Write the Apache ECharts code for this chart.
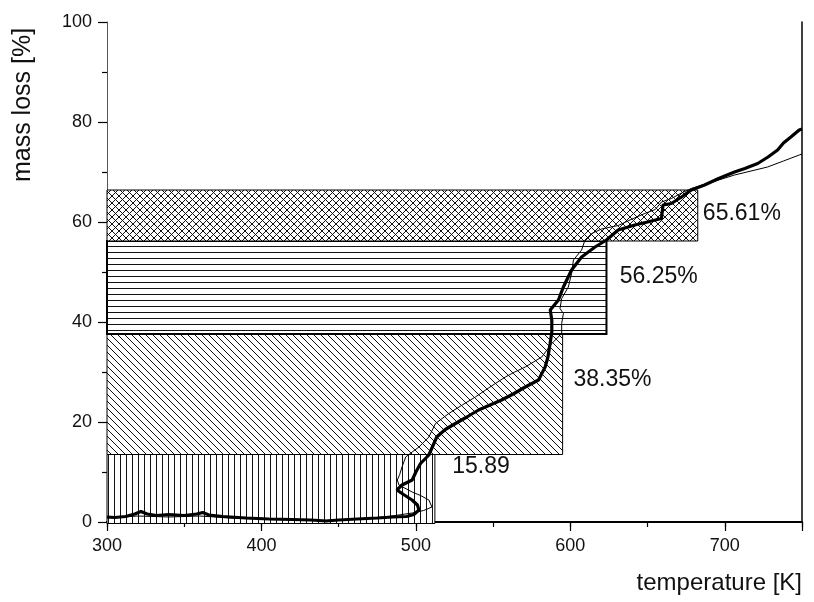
<!DOCTYPE html>
<html><head><meta charset="utf-8">
<script src="https://cdn.jsdelivr.net/npm/echarts@6/dist/echarts.min.js"></script>
<style>html,body{margin:0;padding:0;background:#fff}#c{width:814px;height:602px}</style>
</head><body><div id="c"></div>
<script>
// ---- data ----
const xRange = [300, 750];
const yRange = [0, 100];
const thickCurve = [
 [300,1.0],[305,0.9],[312,1.1],[318,1.6],[322,2.1],[326,1.6],[332,1.3],[340,1.5],[350,1.3],[358,1.6],[362,1.9],[366,1.4],
 [375,1.1],[390,0.8],[405,0.6],[420,0.5],[432,0.4],[442,0.2],[450,0.4],[462,0.6],[475,0.8],[485,1.0],[494,1.1],[498.7,1.5],
 [502,2.4],[501,3.4],[497.5,4.4],[492,5.5],[487.7,6.4],[491,7.4],[497.6,8.4],[500,10],[503,11.7],[508.4,13.4],[513.5,17],
 [519,18.5],[525.6,19.7],[533,21],[540.6,22.4],[548,23.4],[555.5,24.4],[563,25.6],[570.8,27],[579.4,28.4],[583.7,31],
 [585.5,33],[586.9,35.7],[588,38],[588,40.4],[587,42.4],[592.3,44.4],[595.5,47],[600.8,50.4],[607.3,53],[616,55],
 [623.4,56.4],[631,58.4],[641.7,59.4],[650,60],[659,60.7],[660,63.4],[665.4,63.7],[672,65],[678.3,66.4],[686.9,67.4],
 [696,68.7],[706.3,70],[713,70.7],[721.3,71.7],[728,73],[734.2,74.4],[738,75.8],[742.8,77],[748.2,78.4],[750,78.6]
];
const thinCurve = [
 [300,0.8],[320,1.2],[340,1.0],[360,1.2],[380,0.8],[400,0.6],[420,0.5],[440,0.3],[460,0.6],[480,1.0],[497.6,1.8],
 [505,2.3],[510.4,3],[508.4,4.4],[503,5.3],[497.6,6],[489,7.4],[488,8.4],[489.5,9.5],[491,11],[493.4,13],[497.6,14],
 [502,15],[508.4,17],[512.7,19.7],[521.3,21.7],[530,23.4],[538.5,25],[548,27],[557.9,29],[564,30],[570.8,31],[581.5,33],
 [588,35.7],[594.4,37.7],[594.4,39.7],[595.5,41.7],[593.3,42.7],[594.4,44.7],[598.7,47],[600.8,49.7],[602,52.4],
 [607.3,54.4],[609.5,56.4],[613.8,57.7],[620.2,58.6],[631,59.3],[640,60.6],[648.2,61.7],[655,62.5],[659,64],[665.4,64.7],
 [672,65.8],[678.3,66.7],[692,68],[706.3,69.4],[717,70.2],[727.7,71],[738,72.2],[748.2,73.4],[750,73.6]
];
const blockTmin = [300, 300, 300, 300];
const blockTmax = [512.3, 595, 623.4, 682.5];
const blockLow  = [-0.3, 13.5, 37.6, 56.2];
const blockHigh = [13.5, 37.6, 56.2, 66.4];
const labelTexts = ['15.89', '38.35%', '56.25%', '65.61%'];
const labelT = [523.5, 602, 632, 685.8];
const labelM = [11.1, 28.4, 49.1, 61.7];

// ---- hatch patterns ----
function makePattern(kind){
  const s = kind === 'vertical' || kind === 'horizontal' ? 6 : 7;
  const c = document.createElement('canvas'); c.width = s; c.height = s;
  const g = c.getContext('2d');
  g.fillStyle = '#fff'; g.fillRect(0,0,s,s);
  g.strokeStyle = '#111'; g.lineWidth = 1;
  g.beginPath();
  if (kind === 'vertical') { g.moveTo(0.5,0); g.lineTo(0.5,s); }
  if (kind === 'horizontal') { g.moveTo(0,0.5); g.lineTo(s,0.5); }
  if (kind === 'diagonal' || kind === 'cross') {
    for (let k=-1;k<=1;k++){ g.moveTo(k*s,0); g.lineTo(k*s+s,s); }
  }
  if (kind === 'cross') {
    for (let k=0;k<=2;k++){ g.moveTo(k*s,0); g.lineTo(k*s-s,s); }
  }
  g.stroke();
  return c;
}
const patterns = ['vertical','diagonal','horizontal','cross'].map(makePattern);

const FONT = '"Liberation Sans", Arial, sans-serif';
const chart = echarts.init(document.getElementById('c'), null, {renderer:'canvas'});
const blockData = blockTmin.map((t,i)=>[t, blockTmax[i], blockLow[i], blockHigh[i]]);
const labelData = labelT.map((t,i)=>[t, labelM[i], labelTexts[i]]);

chart.setOption({
  animation:false,
  backgroundColor:'#fff',
  grid:{left:107, right:12, top:22, bottom:80},
  xAxis:[{
    type:'value', position:'bottom', min:xRange[0], max:xRange[1], interval:100,
    axisLine:{show:true, onZero:false, lineStyle:{color:'#000', width:1.5}},
    axisTick:{show:true, inside:false, length:9, lineStyle:{color:'#000', width:1.2}},
    splitLine:{show:false},
    axisLabel:{formatter:v=> (v % 100 === 0) ? String(v) : '', fontSize:18, color:'#111', margin:15, fontFamily:FONT}
  },{
    type:'value', position:'top', min:xRange[0], max:xRange[1],
    axisLine:{show:true, lineStyle:{color:'#000', width:2}},
    axisTick:{show:false}, axisLabel:{show:false}, splitLine:{show:false}
  },{
    // minor ticks every 50 at the bottom
    type:'value', position:'bottom', min:xRange[0], max:xRange[1], interval:50,
    axisLine:{show:false, onZero:false},
    axisTick:{show:true, inside:false, length:5, lineStyle:{color:'#000', width:1.2}},
    axisLabel:{show:false}, splitLine:{show:false}
  }],
  yAxis:[{
    type:'value', min:yRange[0], max:yRange[1], interval:20,
    axisLine:{show:true, onZero:false, lineStyle:{color:'#555', width:1}},
    axisTick:{show:true, inside:false, length:9, lineStyle:{color:'#000', width:1.2}},
    minorTick:{show:true, splitNumber:2, length:5, lineStyle:{color:'#000', width:1.2}},
    splitLine:{show:false}, minorSplitLine:{show:false},
    axisLabel:{fontSize:18, color:'#111', margin:15, fontFamily:FONT}
  },{
    type:'value', position:'right', min:yRange[0], max:yRange[1],
    axisLine:{show:true, lineStyle:{color:'#000', width:1.5}},
    axisTick:{show:false}, axisLabel:{show:false}, splitLine:{show:false}
  }],
  graphic:[
    {type:'text', x:802, y:583, style:{text:'temperature [K]', font:'24px '+FONT, fill:'#111', textAlign:'right', textVerticalAlign:'middle', align:'right', verticalAlign:'middle'}},
    {type:'text', x:23, y:105, rotation:Math.PI/2, style:{text:'mass loss [%]', font:'25px '+FONT, fill:'#111', textAlign:'center', textVerticalAlign:'middle', align:'center', verticalAlign:'middle'}}
  ],
  series:[
    {
      type:'custom', name:'stages', data:blockData, encode:{x:[0,1], y:[2,3]}, z:1, silent:true,
      renderItem:(params, api)=>{
        const i = params.dataIndex;
        const p0 = api.coord([api.value(0), api.value(3)]);
        const p1 = api.coord([api.value(1), api.value(2)]);
        return {type:'rect', shape:{x:p0[0], y:p0[1], width:p1[0]-p0[0], height:p1[1]-p0[1]},
          style:{fill:{image:patterns[i], repeat:'repeat'}, stroke:'#000', lineWidth: i===2 ? 2 : 1}};
      }
    },
    {
      type:'custom', name:'labels', data:labelData, encode:{x:0, y:1}, z:5, silent:true,
      renderItem:(params, api)=>{
        const p = api.coord([api.value(0), api.value(1)]);
        return {type:'text', x:p[0], y:p[1], style:{text:labelTexts[params.dataIndex], font:'23px '+FONT, fill:'#111',
          textAlign:'left', textVerticalAlign:'middle', align:'left', verticalAlign:'middle'}};
      }
    },
    {type:'line', name:'thin', data:thinCurve, showSymbol:false, symbol:'none', z:3, silent:true,
     lineStyle:{color:'#000', width:1}},
    {type:'line', name:'thick', data:thickCurve, showSymbol:false, symbol:'none', z:4, silent:true,
     lineStyle:{color:'#000', width:3.2}}
  ]
});
</script></body></html>
